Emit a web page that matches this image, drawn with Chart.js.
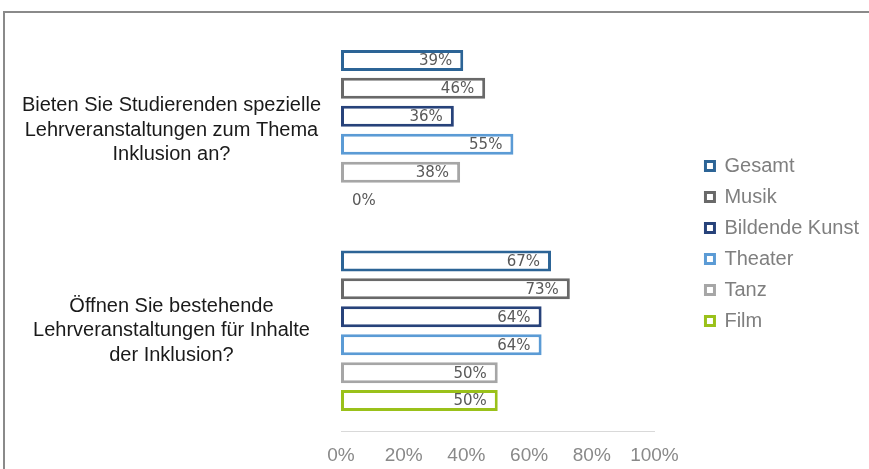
<!DOCTYPE html>
<html>
<head>
<meta charset="utf-8">
<script src="https://cdn.jsdelivr.net/npm/chart.js@4"></script>
<style>
    html, body { margin: 0; padding: 0; background: #fff; overflow: hidden; }
    #frame {
        position: absolute; left: 3px; top: 11px;
        width: 1000px; height: 1000px;
        border: 2px solid #8a8a8a;
    }
    #wrap { position: absolute; left: 0; top: 0; width: 869px; height: 469px; }
</style>
</head>
<body>
<div id="frame"></div>
<div id="wrap"><canvas id="chart"></canvas></div>
<script>
// Kategorien (Fragen) und Werte je Sparte, in Prozent
const categories = [
    ['Bieten Sie Studierenden spezielle', 'Lehrveranstaltungen zum Thema', 'Inklusion an?'],
    ['Öffnen Sie bestehende', 'Lehrveranstaltungen für Inhalte', 'der Inklusion?']
];
const seriesNames = ['Gesamt', 'Musik', 'Bildende Kunst', 'Theater', 'Tanz', 'Film'];
const gesamt   = [39, 67];
const musik    = [46, 73];
const bildende = [36, 64];
const theater  = [55, 64];
const tanz     = [38, 50];
const film     = [0, 50];
const xTicks   = [0, 20, 40, 60, 80, 100];

const seriesValues = [gesamt, musik, bildende, theater, tanz, film];
const seriesColors = ['#2c6496', '#696969', '#27427a', '#5b9bd5', '#a6a6a6', '#9ac11a'];

// Beschriftung der Balken (innen am Ende, bei 0 rechts daneben)
const barLabels = {
    id: 'barLabels',
    afterDatasetsDraw(chart) {
        const ctx = chart.ctx;
        ctx.save();
        ctx.font = '15px "DejaVu Sans"';
        ctx.fillStyle = '#595959';
        ctx.textBaseline = 'middle';
        chart.data.datasets.forEach(function(ds, di) {
            const meta = chart.getDatasetMeta(di);
            meta.data.forEach(function(bar, i) {
                const v = ds.data[i];
                if (v > 0) {
                    ctx.textAlign = 'right';
                    ctx.fillText(v + '%', bar.x - 11, bar.y + 1);
                } else {
                    ctx.textAlign = 'left';
                    ctx.fillText(v + '%', bar.x + 11, bar.y + 1);
                }
            });
        });
        ctx.restore();
    }
};

// Legende etwas vom Diagramm abruecken
const legendShift = {
    id: 'legendShift',
    afterLayout(chart) {
        const lg = chart.legend;
        lg.left += 40;
        lg.right += 40;
        lg.top -= 5;
        lg.bottom -= 5;
    }
};

const datasets = seriesNames.map(function(name, i) {
    return {
        label: name,
        data: seriesValues[i],
        backgroundColor: '#ffffff',
        borderColor: seriesColors[i],
        borderWidth: 3,
        borderSkipped: false,
        barPercentage: 0.75,
        categoryPercentage: 0.836
    };
});

new Chart(document.getElementById('chart'), {
    type: 'bar',
    data: { labels: categories, datasets: datasets },
    options: {
        indexAxis: 'y',
        responsive: true,
        maintainAspectRatio: false,
        animation: false,
        layout: { padding: { left: 21, top: 30, right: 40, bottom: 2 } },
        plugins: {
            tooltip: { enabled: false },
            legend: {
                position: 'right',
                labels: {
                    boxWidth: 9,
                    boxHeight: 9,
                    padding: 11,
                    color: '#7f7f7f',
                    font: { family: '"Liberation Sans", Arial, sans-serif', size: 20 }
                }
            }
        },
        scales: {
            x: {
                min: 0,
                max: 100,
                afterBuildTicks: function(axis) {
                    axis.ticks = xTicks.map(function(v) { return { value: v }; });
                },
                afterFit: function(axis) {
                    axis.height = 36;
                    axis.paddingTop = 0;
                    axis.paddingBottom = 0;
                },
                grid: { display: false, drawTicks: false },
                border: { display: true, color: '#d9d9d9', width: 1 },
                ticks: {
                    padding: 13,
                    maxRotation: 0,
                    color: '#898989',
                    font: { family: '"Liberation Sans", Arial, sans-serif', size: 19 },
                    callback: function(value) { return value + '%'; }
                }
            },
            y: {
                afterFit: function(axis) {
                    axis.width = 320;
                    axis.paddingTop = 0;
                    axis.paddingBottom = 0;
                },
                grid: { display: false, drawTicks: false },
                border: { display: false },
                ticks: {
                    crossAlign: 'center',
                    padding: 20,
                    color: '#1a1a1a',
                    font: { family: '"Liberation Sans", Arial, sans-serif', size: 20, lineHeight: 1.22 }
                }
            }
        }
    },
    plugins: [barLabels, legendShift]
});
</script>
</body>
</html>
